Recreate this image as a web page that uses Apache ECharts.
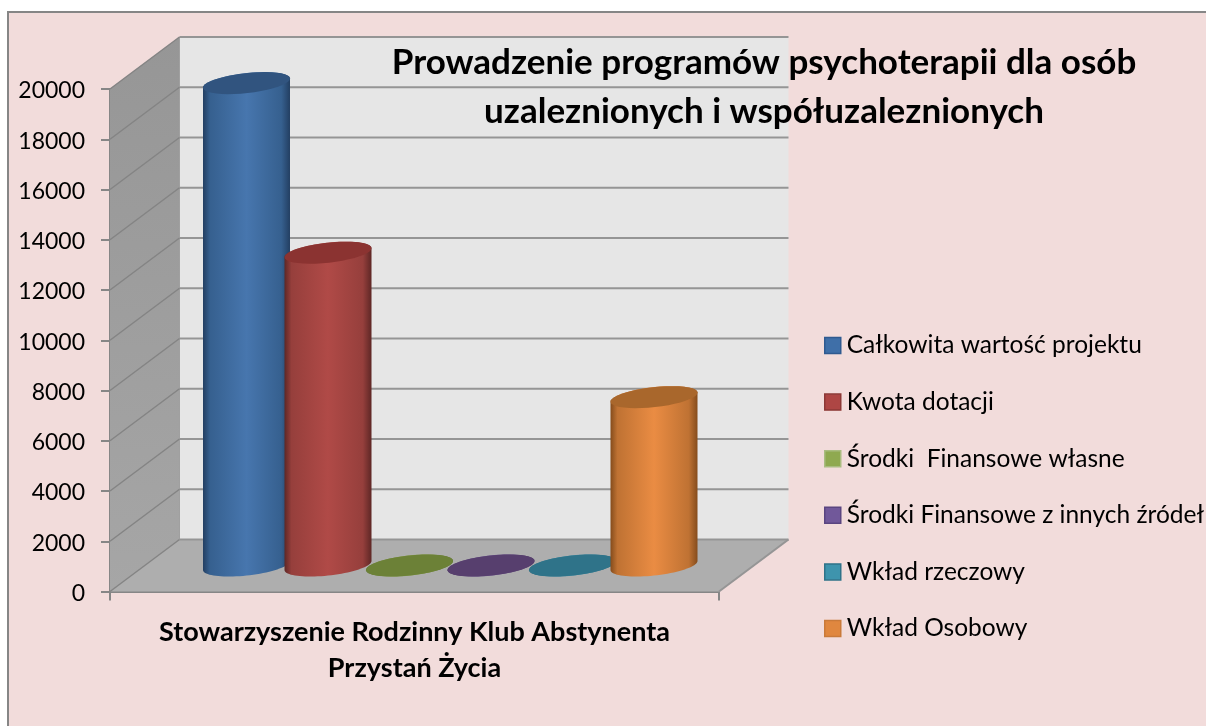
<!DOCTYPE html>
<html><head><meta charset="utf-8">
<style>html,body{margin:0;padding:0;background:#fff}#c{width:1206px;height:726px}</style>
<script src="https://cdn.jsdelivr.net/npm/echarts@6/dist/echarts.min.js"></script>
</head><body><div id="c"></div>
<script>
const categories = ['Stowarzyszenie Rodzinny Klub Abstynenta\nPrzystań Życia'];
const seriesNames = ['Całkowita wartość projektu','Kwota dotacji','Środki  Finansowe własne','Środki Finansowe z innych źródeł','Wkład rzeczowy','Wkład Osobowy'];
const seriesValues = [19200, 12450, 0, 0, 0, 6700];
const yTicks = [0,2000,4000,6000,8000,10000,12000,14000,16000,18000,20000];
const legendFill   = ['#3F6FA8','#AE4644','#8FA950','#71589A','#3E94AD','#E0873F'];
const legendBorder = ['#2F5A90','#8C3836','#A9BC80','#5A4580','#2F7389','#C97A3A'];
const bodyEdge   = ['#233F62','#5E2725','#55682B','#452F5C','#245C6E','#854C1C'];
const bodyMid    = ['#4776AE','#B04A47','#8FA950','#71589A','#3E94AD','#EA8C43'];
const bodyShade  = ['#36608F','#963F3C','#6C8137','#573F6E','#2F7389','#BF7233'];
const capFill    = ['#31547F','#8B3331','#6C8137','#573F6E','#2F7389','#A9672C'];

const depthX = 69.5, depthY = 52;          // 3D depth of the plot box
const ellA = 43.75, ellB = 10, ellTilt = 6.3 * Math.PI / 180;
const barStep = 81.5 / 609;                // bar pitch as share of band width

function arc(cx, cy, from, to) {
  const pts = [], n = 40;
  for (let i = 0; i <= n; i++) {
    const t = from + (to - from) * i / n;
    pts.push([
      cx + ellA * Math.cos(t) * Math.cos(ellTilt) + ellB * Math.sin(t) * Math.sin(ellTilt),
      cy - ellA * Math.cos(t) * Math.sin(ellTilt) + ellB * Math.sin(t) * Math.cos(ellTilt)
    ]);
  }
  return pts;
}
const t0 = Math.atan2(ellB * Math.sin(ellTilt), ellA * Math.cos(ellTilt));

function cylinder(i) {
  return function (params, api) {
    const band = api.size([1, 0])[0];
    const top = api.coord([api.value(0), api.value(1)]);
    const base = api.coord([api.value(0), 0]);
    const cx = top[0] + depthX / 2 + 1 + (i - 2.5) * band * barStep;
    const yTop = top[1] - depthY / 2, yBase = base[1] - depthY / 2;
    const body = arc(cx, yBase, t0, t0 + Math.PI).concat(arc(cx, yTop, t0 + Math.PI, t0 + 2 * Math.PI));
    const grad = new echarts.graphic.LinearGradient(0, 0, 1, 0, [
      {offset: 0, color: bodyEdge[i]}, {offset: 0.08, color: bodyShade[i]},
      {offset: 0.5, color: bodyMid[i]}, {offset: 0.9, color: bodyShade[i]},
      {offset: 1, color: bodyEdge[i]}
    ]);
    return {type: 'group', children: [
      {type: 'polygon', shape: {points: body}, style: {fill: grad}},
      {type: 'polygon', shape: {points: arc(cx, yTop, 0, 2 * Math.PI)}, style: {fill: capFill[i]}}
    ]};
  };
}

function frame(params, api) {
  const cs = params.coordSys, L = cs.x, R = cs.x + cs.width;
  const y = api.coord([0, api.value(0)])[1];
  const line = '#959595';
  const kids = [];
  if (params.dataIndex === 0) {
    const yTopFront = api.coord([0, 20000])[1];
    kids.push(
      {type: 'polygon', shape: {points: [[L + depthX, yTopFront - depthY], [R + depthX, yTopFront - depthY], [R + depthX, y - depthY], [L + depthX, y - depthY]]}, style: {fill: '#E6E6E6'}},
      {type: 'polygon', shape: {points: [[L, yTopFront], [L + depthX, yTopFront - depthY], [L + depthX, y - depthY], [L, y]]},
        style: {fill: new echarts.graphic.LinearGradient(0, 0, 0, 1, [{offset: 0, color: '#969696'}, {offset: 1, color: '#A6A6A6'}])}},
      {type: 'polygon', shape: {points: [[L, y], [R, y], [R + depthX, y - depthY], [L + depthX, y - depthY]]}, style: {fill: '#AEAEAE'}},
      {type: 'line', shape: {x1: R, y1: y, x2: R + depthX, y2: y - depthY}, style: {stroke: line, lineWidth: 2}},
      {type: 'line', shape: {x1: L + depthX, y1: yTopFront - depthY, x2: L + depthX, y2: y - depthY}, style: {stroke: '#A0A0A0', lineWidth: 1}}
    );
  }
  kids.push(
    {type: 'line', shape: {x1: L + depthX, y1: y - depthY, x2: R + depthX, y2: y - depthY}, style: {stroke: line, lineWidth: 2}},
    {type: 'line', shape: {x1: L, y1: y, x2: L + depthX, y2: y - depthY}, style: {stroke: '#848484', lineWidth: 1.5}}
  );
  return {type: 'group', children: kids};
}

const series = [{type: 'custom', name: 'frame', z: 1, clip: false, silent: true,
  renderItem: frame, data: yTicks.map(v => [v]), encode: {y: 0}}];
seriesNames.forEach((n, i) => series.push({
  type: 'custom', name: n, z: 3 + i, clip: false,
  renderItem: cylinder(i), itemStyle: {color: legendFill[i]},
  data: [[0, seriesValues[i]]], encode: {x: 0, y: 1}
}));

const font = 'Lato,"Open Sans",sans-serif';
const chart = echarts.init(document.getElementById('c'), null, {renderer: 'canvas'});
chart.setOption({
  animation: false,
  backgroundColor: '#fff',
  graphic: [{type: 'rect', z: -10, shape: {x: 8, y: 12, width: 1210, height: 730},
    style: {fill: '#F2DCDB', stroke: '#868686', lineWidth: 2}}],
  title: {
    text: 'Prowadzenie programów psychoterapii dla osób\nuzaleznionych i współuzaleznionych',
    left: 759, top: 33, textAlign: 'center',
    textStyle: {fontFamily: font, fontWeight: 'bold', fontSize: 35, lineHeight: 49, color: '#000'}
  },
  legend: {
    orient: 'vertical', left: 824, top: 333, padding: 0, itemWidth: 16, itemHeight: 16, itemGap: 31.6, icon: 'rect',
    selectedMode: false,
    data: seriesNames.map((n, i) => ({name: n, itemStyle: {color: legendFill[i], borderColor: legendBorder[i], borderWidth: 1.5}})),
    textStyle: {fontFamily: font, fontSize: 24.5, lineHeight: 20, color: '#000', padding: [0, 0, 0, 1]}
  },
  grid: {left: 110, top: 89, width: 609, height: 502.5},
  xAxis: {
    type: 'category', data: categories,
    axisLine: {lineStyle: {color: '#868686', width: 2}},
    axisTick: {show: true, length: 9, lineStyle: {color: '#868686', width: 2}},
    axisLabel: {margin: 23, fontFamily: font, fontWeight: 'bold', fontSize: 27, lineHeight: 36, color: '#000', align: 'center'},
    splitLine: {show: false}
  },
  yAxis: {
    type: 'value', min: 0, max: 20000, interval: 2000,
    axisLine: {show: true, lineStyle: {color: '#868686', width: 2}},
    axisTick: {show: true, length: 9, lineStyle: {color: '#868686', width: 2}},
    axisLabel: {margin: 25, color: '#000', formatter: v => '{a|' + v + '}',
      rich: {a: {fontFamily: font, fontSize: 23, color: '#000', padding: [4, 0, 0, 0]}}},
    splitLine: {show: false}
  },
  series: series
});
</script></body></html>
